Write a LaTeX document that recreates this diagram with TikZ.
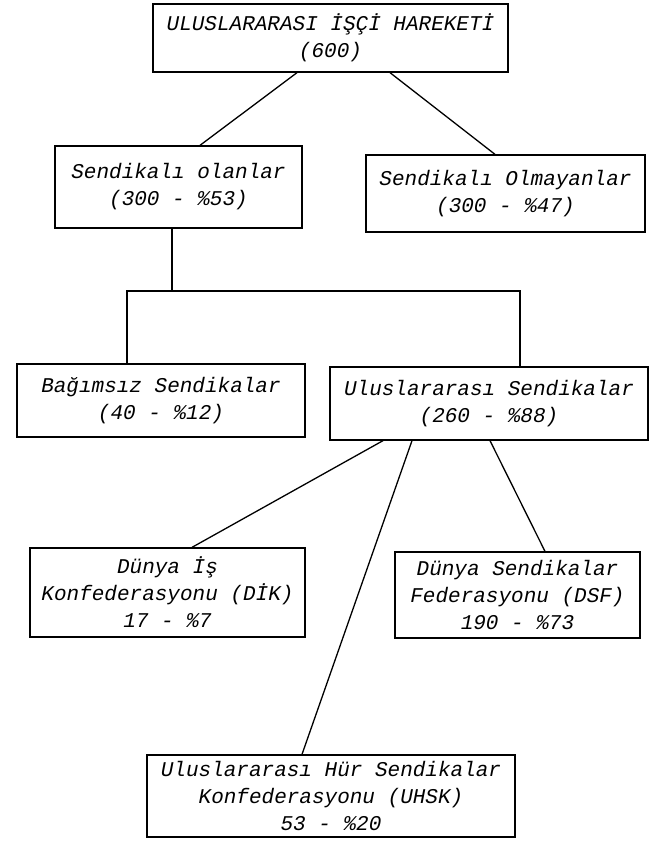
\documentclass[tikz,border=0pt]{standalone}
\usepackage{fontspec}
\newfontfamily\daktilo{Liberation Mono}
\usepackage{tikz}

\begin{document}
\begin{tikzpicture}
            [x=1pt, y=-1pt, line width=1.3pt,
             kutu/.style={shape=rectangle, draw=black, align=center, inner sep=0pt,
                          font=\daktilo\itshape\fontsize{21}{27}\selectfont}]
            \useasboundingbox (0,0) rectangle (659,846);
            \node[kutu, minimum width=355pt, minimum height=68pt] (hareket) at (330.5, 38) {ULUSLARARASI İŞÇİ HAREKETİ\\(600)};
            \node[kutu, minimum width=247pt, minimum height=82pt] (sendikali) at (178.5, 187) {Sendikalı olanlar\\(300 - \%53)};
            \node[kutu, minimum width=279pt, minimum height=77pt] (sendikasiz) at (505.5, 193.5) {Sendikalı Olmayanlar\\(300 - \%47)};
            \node[kutu, minimum width=288pt, minimum height=73pt] (bagimsiz) at (161, 400.5) {Bağımsız Sendikalar\\(40 - \%12)};
            \node[kutu, minimum width=318pt, minimum height=73pt] (uluslararasi) at (489, 403.5) {Uluslararası Sendikalar\\(260 - \%88)};
            \node[kutu, minimum width=275pt, minimum height=89pt] (dik) at (167.5, 592.5) {Dünya İş\\Konfederasyonu (DİK)\\17 - \%7};
            \node[kutu, minimum width=245pt, minimum height=86pt] (dsf) at (517.5, 595) {Dünya Sendikalar\\Federasyonu (DSF)\\190 - \%73};
            \node[kutu, minimum width=368pt, minimum height=82pt] (uhsk) at (331, 796) {Uluslararası Hür Sendikalar\\Konfederasyonu (UHSK)\\53 - \%20};
            \coordinate (catal) at (172, 291);

            \draw ([xshift=-33.5pt]hareket.south) -- ([xshift=21.5pt]sendikali.north);
            \draw ([xshift=59.5pt]hareket.south) -- ([xshift=-10.5pt]sendikasiz.north);
            \draw ([xshift=-6.5pt]sendikali.south) -- (catal);
            \draw ([xshift=-34pt]bagimsiz.north) |- (catal) -| ([xshift=31pt]uluslararasi.north);
            \draw ([xshift=-106pt]uluslararasi.south) -- ([xshift=24.5pt]dik.north);
            \draw ([xshift=-77pt]uluslararasi.south) -- ([xshift=-29pt]uhsk.north);
            \draw ([xshift=1pt]uluslararasi.south) -- ([xshift=27.5pt]dsf.north);
        \end{tikzpicture}
\end{document}
